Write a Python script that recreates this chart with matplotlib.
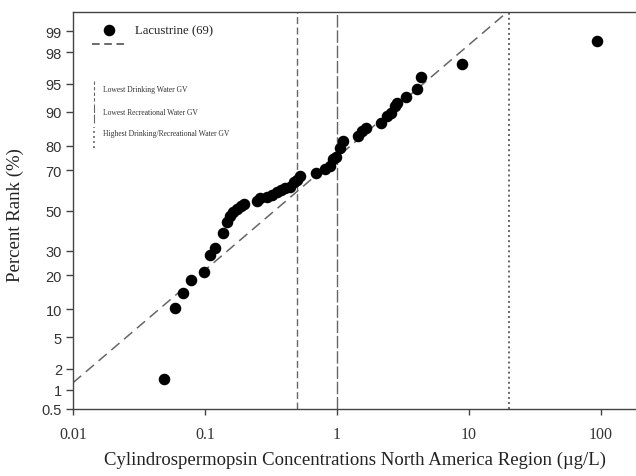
from statistics import NormalDist
import numpy as np
import matplotlib
matplotlib.use("Agg")
from matplotlib import pyplot as plt
from matplotlib.ticker import FixedLocator, FixedFormatter

# concentrations (ug/L) and percent rank
conc = [0.049, 0.059, 0.068, 0.078, 0.098, 0.109, 0.119, 0.137, 0.147, 0.155,
        0.163, 0.175, 0.187, 0.197, 0.248, 0.261, 0.295, 0.322, 0.351, 0.377,
        0.404, 0.441, 0.472, 0.498, 0.525, 0.693, 0.811, 0.885, 0.933, 0.982,
        1.05, 1.11, 1.44, 1.55, 1.66, 2.15, 2.39, 2.57, 2.75, 2.85,
        3.33, 4.04, 4.33, 8.85, 93.3]
rank = [1.46, 10.2, 14.3, 18.5, 21.4, 28.4, 31.5, 38.7, 44.3, 46.9,
        49.0, 51.0, 52.1, 53.6, 54.7, 56.2, 57.2, 58.2, 59.7, 60.7,
        61.7, 62.2, 64.2, 65.6, 67.1, 68.9, 70.3, 72.0, 74.6, 75.8,
        79.0, 81.5, 83.2, 84.8, 85.9, 87.3, 88.9, 89.8, 91.2, 91.8,
        92.9, 94.3, 95.8, 97.1, 98.6]

# lognormal fit line end points
fit_x = [0.01, 19.5]
fit_p = [1.27, 99.5]

# guideline values
gv_drink = 0.5
gv_rec = 1.0
gv_high = 20.0

yticks = [0.5, 1, 2, 5, 10, 20, 30, 50, 70, 80, 90, 95, 98, 99]
xticks = [0.01, 0.1, 1, 10, 100]
xticklabels = ["0.01", "0.1", "1", "10", "100"]

nd = NormalDist()
_ppf = np.vectorize(lambda p: nd.inv_cdf(min(max(p / 100.0, 1e-9), 1 - 1e-9)),
                    otypes=[float])
_cdf = np.vectorize(lambda z: nd.cdf(z) * 100.0, otypes=[float])


def fwd(p):
    return _ppf(np.asarray(p, dtype=float))


def inv(z):
    return _cdf(np.asarray(z, dtype=float))


serif = "Liberation Serif"
sans = "Liberation Sans"
grey = "#666666"

fig = plt.figure(figsize=(6.36, 4.77), dpi=100)
ax = fig.add_axes([73 / 636, 1 - 410 / 477, 563 / 636, 397 / 477])

ax.set_xscale("log")
ax.set_yscale("function", functions=(fwd, inv))
ax.set_xlim(0.01, 184)
ax.set_ylim(0.5, 99.5)

ax.axvline(gv_drink, color=grey, lw=1.0, ls=(0, (5, 2.5)))
ax.axvline(gv_rec, color=grey, lw=1.0, ls=(0, (9, 2)))
ax.axvline(gv_high, color=grey, lw=1.4, ls=(0, (1, 1.6)))

ax.plot(fit_x, fit_p, color="#666666", lw=1.1, ls=(0, (7, 4)))
ax.plot(conc, rank, "o", color="black", ms=7.3, ls="none")

# legend drawn by hand
ax.plot([0.064], [0.955], "o", color="black", ms=7.3, transform=ax.transAxes)
ax.text(0.110, 0.955, "Lacustrine (69)", transform=ax.transAxes, va="center",
        fontsize=9.2, family=serif, color="#222222")
ax.plot([0.034, 0.096], [0.919, 0.919], color="#444444", lw=1.1, ls=(0, (5, 3)),
        transform=ax.transAxes)

ax.plot([0.037, 0.037], [0.776, 0.826], color=grey, lw=0.8, ls=(0, (3, 2)),
        transform=ax.transAxes)
ax.plot([0.037, 0.037], [0.720, 0.768], color=grey, lw=0.8, ls=(0, (8, 1.5)),
        transform=ax.transAxes)
ax.plot([0.037, 0.037], [0.657, 0.710], color=grey, lw=1.3, ls=(0, (1, 1.8)),
        transform=ax.transAxes)
for yy, txt in [(0.806, "Lowest Drinking Water GV"),
                (0.748, "Lowest Recreational Water GV"),
                (0.695, "Highest Drinking/Recreational Water GV")]:
    ax.text(0.054, yy, txt, transform=ax.transAxes, va="center",
            fontsize=5.5, family=serif, color="#333333")

ax.yaxis.set_major_locator(FixedLocator(yticks))
ax.yaxis.set_major_formatter(FixedFormatter([("%g" % t) for t in yticks]))
ax.yaxis.set_minor_locator(FixedLocator([]))
ax.xaxis.set_major_locator(FixedLocator(xticks))
ax.xaxis.set_major_formatter(FixedFormatter(xticklabels))
ax.xaxis.set_minor_locator(FixedLocator([]))

for lab in ax.get_yticklabels():
    lab.set_family(sans)
    lab.set_fontsize(10.5)
    lab.set_color("#333333")
for lab in ax.get_xticklabels():
    lab.set_family(serif)
    lab.set_fontsize(11.5)
    lab.set_color("#333333")

ax.tick_params(axis="y", direction="out", length=5, width=1, color="#444444", pad=3)
ax.tick_params(axis="x", direction="out", length=4, width=1, color="#444444", pad=8)

for s in ["left", "top", "bottom"]:
    ax.spines[s].set_color("#444444")
    ax.spines[s].set_linewidth(1.0)
ax.spines["right"].set_visible(False)

ax.set_ylabel("Percent Rank (%)", family=serif, fontsize=13.5, color="#222222")
ax.set_xlabel("Cylindrospermopsin Concentrations North America Region (\u00b5g/L)",
              family=serif, fontsize=13.5, color="#222222")
ax.yaxis.set_label_coords(-0.087, 0.49)
ax.xaxis.set_label_coords(0.5, -0.105)

fig.savefig("out.png", dpi=100)
